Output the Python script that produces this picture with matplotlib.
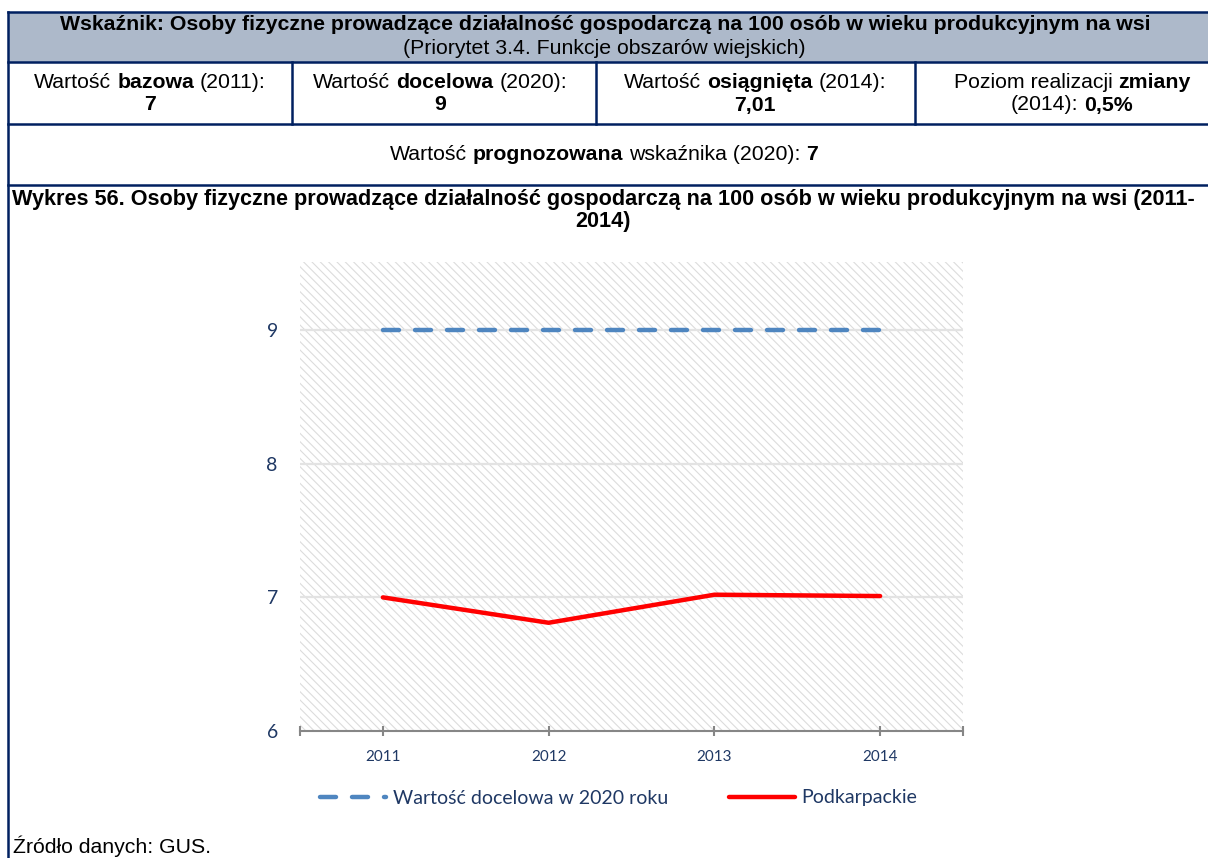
import matplotlib
matplotlib.use("Agg")
import matplotlib.pyplot as plt
from matplotlib.patches import Rectangle

# series
years = [2011, 2012, 2013, 2014]
podkarpackie = [7.00, 6.81, 7.02, 7.01]
target_2020 = [9, 9, 9, 9]
y_ticks = [6, 7, 8, 9]

# indicator table
title = "Wskaźnik: Osoby fizyczne prowadzące działalność gospodarczą na 100 osób w wieku produkcyjnym na wsi"
subtitle = "(Priorytet 3.4. Funkcje obszarów wiejskich)"
cells = [
    [[("Wartość", False), ("bazowa", True), ("(2011):", False)], [("7", True)]],
    [[("Wartość", False), ("docelowa", True), ("(2020):", False)], [("9", True)]],
    [[("Wartość", False), ("osiągnięta", True), ("(2014):", False)], [("7,01", True)]],
    [[("Poziom realizacji", False), ("zmiany", True)], [("(2014):", False), ("0,5%", True)]],
]
forecast = [("Wartość", False), ("prognozowana", True), ("wskaźnika (2020):", False), ("7", True)]
chart_title = ["Wykres 56. Osoby fizyczne prowadzące działalność gospodarczą na 100 osób w wieku produkcyjnym na wsi (2011-",
               "2014)"]
source = "Źródło danych: GUS."

W, H = 1208, 858
NAVY = "#002060"
TXT_FONT = "Liberation Sans"
CHART_FONT = "Lato"
FS = 15.3

fig = plt.figure(figsize=(W / 100, H / 100), dpi=100)
page = fig.add_axes([0, 0, 1, 1])
page.set_xlim(0, W)
page.set_ylim(H, 0)
page.axis("off")

# table frame
page.add_patch(Rectangle((8, 12), W, 50, facecolor="#adb9ca", edgecolor="none"))
for y in [12, 62, 124, 185]:
    page.plot([8, W + 2], [y, y], color=NAVY, lw=1.8)
page.plot([8, 8], [12, H + 2], color=NAVY, lw=1.8)
col_x = [8, 292, 596, 915, W + 2]
for x in col_x[1:-1]:
    page.plot([x, x], [62, 124], color=NAVY, lw=1.8)

renderer = fig.canvas.get_renderer()


def text_width(s, bold, size):
    t = page.text(0, 0, s, fontsize=size, family=TXT_FONT, weight="bold" if bold else "normal")
    w = t.get_window_extent(renderer).width
    t.remove()
    return w


def rich_line(cx, y, parts, size=FS):
    space = text_width("a a", False, size) - text_width("aa", False, size)
    widths = [text_width(s, b, size) for s, b in parts]
    total = sum(widths) + space * (len(parts) - 1)
    x = cx - total / 2
    for (s, b), w in zip(parts, widths):
        page.text(x, y, s, fontsize=size, family=TXT_FONT, weight="bold" if b else "normal",
                  ha="left", va="center", color="black")
        x += w + space


page.text(W / 2 + 1, 25, title, fontsize=FS, family=TXT_FONT, weight="bold", ha="center", va="center")
page.text(W / 2, 48, subtitle, fontsize=FS, family=TXT_FONT, ha="center", va="center")

cell_cx = [150, 440, 755, 1072]
for cx, (line1, line2) in zip(cell_cx, cells):
    rich_line(cx, 83, line1)
    rich_line(cx, 105, line2)

rich_line(604, 155, forecast)
page.text(603, 200, chart_title[0], fontsize=15.6, family=TXT_FONT, weight="bold", ha="center", va="center")
page.text(603, 221, chart_title[1], fontsize=15.6, family=TXT_FONT, weight="bold", ha="center", va="center")
page.text(13, 846, source, fontsize=FS, family=TXT_FONT, ha="left", va="center")

# chart
plt.rcParams["hatch.linewidth"] = 0.8
plt.rcParams["hatch.color"] = "#dcdcdc"
left, right, top, bottom = 300, 963, 262, 731
ax = fig.add_axes([left / W, 1 - bottom / H, (right - left) / W, (bottom - top) / H])
ax.set_xlim(2010.5, 2014.5)
ax.set_ylim(6, 9.51)
ax.add_patch(Rectangle((0, 0), 1, 1, transform=ax.transAxes, facecolor="white",
                       edgecolor="#dcdcdc", hatch="\\\\\\\\", lw=0, zorder=0))
for v in y_ticks[1:]:
    ax.axhline(v, color="#e3e3e3", lw=1.6, zorder=1)

ax.plot(years, target_2020, color="#4f86c0", lw=3.2, dashes=(3.6, 3.6),
        dash_capstyle="round", zorder=3, label="Wartość docelowa w 2020 roku")
ax.plot(years, podkarpackie, color="#ff0000", lw=3.2, solid_capstyle="round",
        zorder=4, label="Podkarpackie")

for s in ["top", "right", "left"]:
    ax.spines[s].set_visible(False)
ax.spines["bottom"].set_color("#868686")
ax.spines["bottom"].set_linewidth(1.5)
ax.set_yticks(y_ticks)
ax.set_xticks(years)
ax.set_xticks([2010.5, 2014.5], minor=True)
ax.tick_params(axis="y", length=0, pad=16, labelsize=14, labelcolor="#1f3864")
ax.tick_params(axis="x", which="both", direction="inout", length=7, width=1.5,
               color="#868686", pad=10, labelsize=11, labelcolor="#1f3864")
for lab in ax.get_xticklabels() + ax.get_yticklabels():
    lab.set_family(CHART_FONT)

leg = fig.legend(loc="center", bbox_to_anchor=(619 / W, 1 - 798 / H), ncol=2, frameon=False,
                 handlelength=3.4, handletextpad=0.35, columnspacing=3.1,
                 prop={"family": CHART_FONT, "size": 14})
for t in leg.get_texts():
    t.set_color("#1f3864")

fig.savefig("out.png", dpi=100)
